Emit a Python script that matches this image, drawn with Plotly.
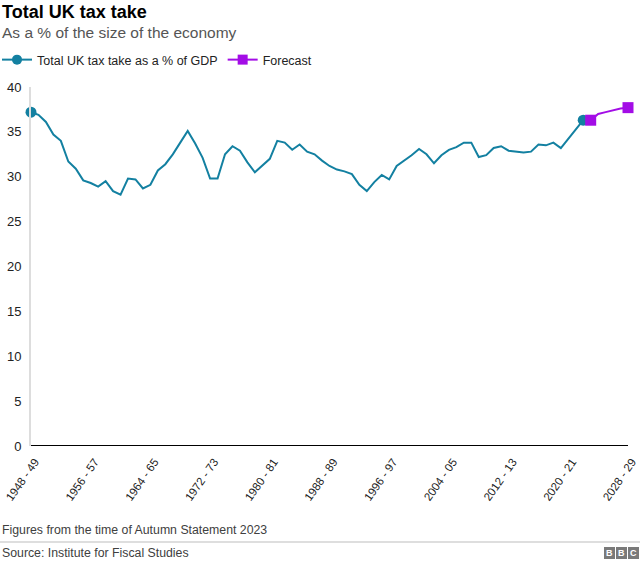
import plotly.graph_objects as go

# ---- data ----
start_years = list(range(1948, 2029))
labels = [f"{y} - {str(y + 1)[-2:]}" for y in start_years]

tax_take = [37.2, 36.9, 36.1, 34.7, 34.0, 31.7, 30.9, 29.6, 29.3, 28.9,
            29.5, 28.4, 28.0, 29.8, 29.7, 28.7, 29.1, 30.7, 31.4, 32.5,
            33.8, 35.1, 33.7, 32.1, 29.8, 29.8, 32.5, 33.4, 32.9, 31.6,
            30.5, 31.2, 32.0, 34.0, 33.8, 33.0, 33.6, 32.8, 32.5, 31.8,
            31.2, 30.8, 30.6, 30.3, 29.1, 28.4, 29.4, 30.2, 29.7, 31.2,
            31.8, 32.4, 33.1, 32.5, 31.5, 32.4, 33.0, 33.3, 33.8, 33.8,
            32.2, 32.4, 33.2, 33.4, 32.9, 32.8, 32.7, 32.8, 33.6, 33.5,
            33.8, 33.2, 34.2, 35.2, 36.3]
forecast = [36.3, 37.0, 37.2, 37.4, 37.6, 37.7]

hist_labels = labels[:len(tax_take)]
fc_labels = labels[len(tax_take):len(tax_take) + len(forecast)]
tick_labels = labels[::8]

TEAL = "#1380A1"
PURPLE = "#A30DE6"
FONT = "Liberation Sans, Arial, sans-serif"

fig = go.Figure()

# historical line
fig.add_trace(go.Scatter(x=hist_labels, y=tax_take, mode="lines",
                         line=dict(color=TEAL, width=2), showlegend=False,
                         hoverinfo="skip", cliponaxis=False))
fig.add_trace(go.Scatter(x=[hist_labels[0], hist_labels[-1]],
                         y=[tax_take[0], tax_take[-1]], mode="markers",
                         marker=dict(color=TEAL, size=11, symbol="circle"),
                         showlegend=False, cliponaxis=False))
# forecast
fig.add_trace(go.Scatter(x=fc_labels, y=forecast, mode="lines",
                         line=dict(color=PURPLE, width=2), showlegend=False,
                         cliponaxis=False))
fig.add_trace(go.Scatter(x=[fc_labels[0], fc_labels[-1]],
                         y=[forecast[0], forecast[-1]], mode="markers",
                         marker=dict(color=PURPLE, size=11, symbol="square"),
                         showlegend=False, cliponaxis=False))
# legend entries
fig.add_trace(go.Scatter(x=[None], y=[None], mode="lines+markers",
                         name="Total UK tax take as a % of GDP",
                         line=dict(color=TEAL, width=2),
                         marker=dict(color=TEAL, size=10, symbol="circle")))
fig.add_trace(go.Scatter(x=[None], y=[None], mode="lines+markers",
                         name="Forecast",
                         line=dict(color=PURPLE, width=2),
                         marker=dict(color=PURPLE, size=10, symbol="square")))

L, R, T, B = 31, 628, 87, 446
W, H = R - L, B - T


def px(x):
    return (x - L) / W


def py(y):
    return (B - y) / H


def note(text, x, y, size, color, xanchor="left"):
    fig.add_annotation(text=text, xref="paper", yref="paper", x=x, y=y,
                       xanchor=xanchor, yanchor="middle", showarrow=False,
                       font=dict(size=size, color=color, family=FONT))


note("<b>Total UK tax take</b>", px(0), py(12), 18, "#000000")
note("As a % of the size of the economy", px(0), py(32), 15.5, "#555555")
note("Figures from the time of Autumn Statement 2023", px(0), py(530),
     12.3, "#404040")
note("Source: Institute for Fiscal Studies", px(0), py(553), 12.3, "#404040")

fig.add_shape(type="line", xref="paper", yref="paper", x0=px(0), x1=px(640),
              y0=py(542), y1=py(542), line=dict(color="#bdbdbd", width=1))
for i, letter in enumerate(["B", "B", "C"]):
    x0 = 604 + i * 12
    fig.add_shape(type="rect", xref="paper", yref="paper",
                  x0=px(x0), x1=px(x0 + 11), y0=py(559), y1=py(547),
                  fillcolor="#7a7a7a", line=dict(width=0))
    note(f"<b>{letter}</b>", px(x0 + 5.5), py(553), 9, "#ffffff", "center")

fig.add_shape(type="line", xref="paper", yref="y", x0=0, x1=1, y0=0, y1=0,
              line=dict(color="#000000", width=2))

fig.update_layout(
    width=640, height=564,
    margin=dict(l=L, r=640 - R, t=T, b=564 - B, pad=0, autoexpand=False),
    paper_bgcolor="white", plot_bgcolor="white",
    font=dict(family=FONT, color="#222222"),
    showlegend=True,
    legend=dict(orientation="h", x=px(0) - 0.005, y=py(60), xanchor="left",
                yanchor="middle", font=dict(size=12.5, color="#222222"),
                itemwidth=30, tracegroupgap=0, bgcolor="rgba(0,0,0,0)"),
    xaxis=dict(type="category", categoryorder="array", categoryarray=labels,
               range=[0, len(labels) - 1], tickmode="array",
               tickvals=tick_labels, ticktext=tick_labels, tickangle=-55,
               showgrid=False, zeroline=False, showline=False, ticks="",
               ticklabelstandoff=6, ticklabelshift=4, automargin=False,
               tickfont=dict(size=11.5, color="#222222")),
    yaxis=dict(range=[0, 40], dtick=5, showgrid=False, zeroline=False,
               showline=True, linecolor="#dddddd", linewidth=2,
               ticks="", ticklabelstandoff=5, automargin=False,
               tickfont=dict(size=13, color="#222222")),
)

fig.write_html("out.html", config={"displayModeBar": False},
               post_script="document.body.style.margin='0';"
                           "document.body.style.padding='0';")
